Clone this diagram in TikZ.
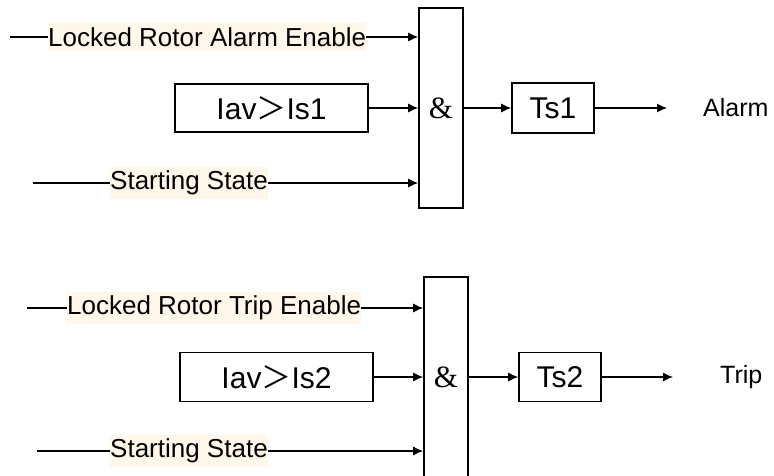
\documentclass[tikz,border=0pt]{standalone}
\usepackage{fontspec}
\setmainfont{Liberation Sans}
\newfontfamily\ampfont{Liberation Serif}
\newfontfamily\cjk{Noto Sans CJK SC}
\usetikzlibrary{arrows.meta,positioning}
\definecolor{hilite}{RGB}{255,247,233}

\begin{document}
\begin{tikzpicture}[x=1pt,y=-1pt]
\tikzset{
  logicbox/.style={draw,line width=1.6pt,inner sep=0pt,font=\fontsize{30}{34}\selectfont},
  andgate/.style={draw,line width=1.6pt,minimum width=44pt,minimum height=200pt,inner sep=0pt,font=\ampfont\fontsize{31}{34}\selectfont},
  siglabel/.style={fill=hilite,inner xsep=0pt,inner ysep=4pt,anchor=west,font=\fontsize{26}{30}\selectfont},
  outlabel/.style={inner sep=0pt,anchor=west,font=\fontsize{25}{30}\selectfont},
  directed/.style={-{Latex[length=10pt,width=9pt]},line width=1.2pt},
  plain/.style={line width=1.2pt}
}
\clip (0,0) rectangle (774,475);
% alarm branch
\node[andgate] (and_1) at (441,108) {\&};
\node[logicbox,minimum width=193pt,minimum height=48pt] (cmp_1) at (271.5,108) {Iav{\cjk ＞}Is1};
\node[logicbox,minimum width=82pt,minimum height=50pt] (ts_1) at (553,108) {Ts1};
\coordinate (in_aen) at (10,37);
\node[siglabel] (lab_aen) at (48,37) {Locked Rotor Alarm Enable\hspace{9pt}};
\coordinate (in_ss_1) at (33,183);
\node[siglabel] (lab_ss_1) at (110,183) {Starting State};
\coordinate (out_1) at (667,108);
\node[outlabel] (lab_alarm) at (703,108) {Alarm};
\draw[plain] (in_aen) -- (lab_aen.west);
\draw[directed] (lab_aen.east) -- (and_1.west |- lab_aen.east);
\draw[directed] (cmp_1.east) -- (and_1.west |- cmp_1.east);
\draw[plain] (in_ss_1) -- (lab_ss_1.west);
\draw[directed] (lab_ss_1.east) -- (and_1.west |- lab_ss_1.east);
\draw[directed] (and_1.east) -- (ts_1.west);
\draw[directed] (ts_1.east) -- (out_1);
% trip branch
\node[andgate] (and_2) at (446,377) {\&};
\node[logicbox,minimum width=193pt,minimum height=49pt] (cmp_2) at (276.5,377) {Iav{\cjk ＞}Is2};
\node[logicbox,minimum width=82pt,minimum height=49pt] (ts_2) at (560,377) {Ts2};
\coordinate (in_ten) at (27,308);
\node[siglabel] (lab_ten) at (67,308) {Locked Rotor Trip Enable};
\coordinate (in_ss_2) at (37,451);
\node[siglabel] (lab_ss_2) at (110,451) {Starting State};
\coordinate (out_2) at (673,377);
\node[outlabel] (lab_trip) at (720,377) {Trip};
\draw[plain] (in_ten) -- (lab_ten.west);
\draw[directed] (lab_ten.east) -- (and_2.west |- lab_ten.east);
\draw[directed] (cmp_2.east) -- (and_2.west |- cmp_2.east);
\draw[plain] (in_ss_2) -- (lab_ss_2.west);
\draw[directed] (lab_ss_2.east) -- (and_2.west |- lab_ss_2.east);
\draw[directed] (and_2.east) -- (ts_2.west);
\draw[directed] (ts_2.east) -- (out_2);
\end{tikzpicture}
\end{document}
